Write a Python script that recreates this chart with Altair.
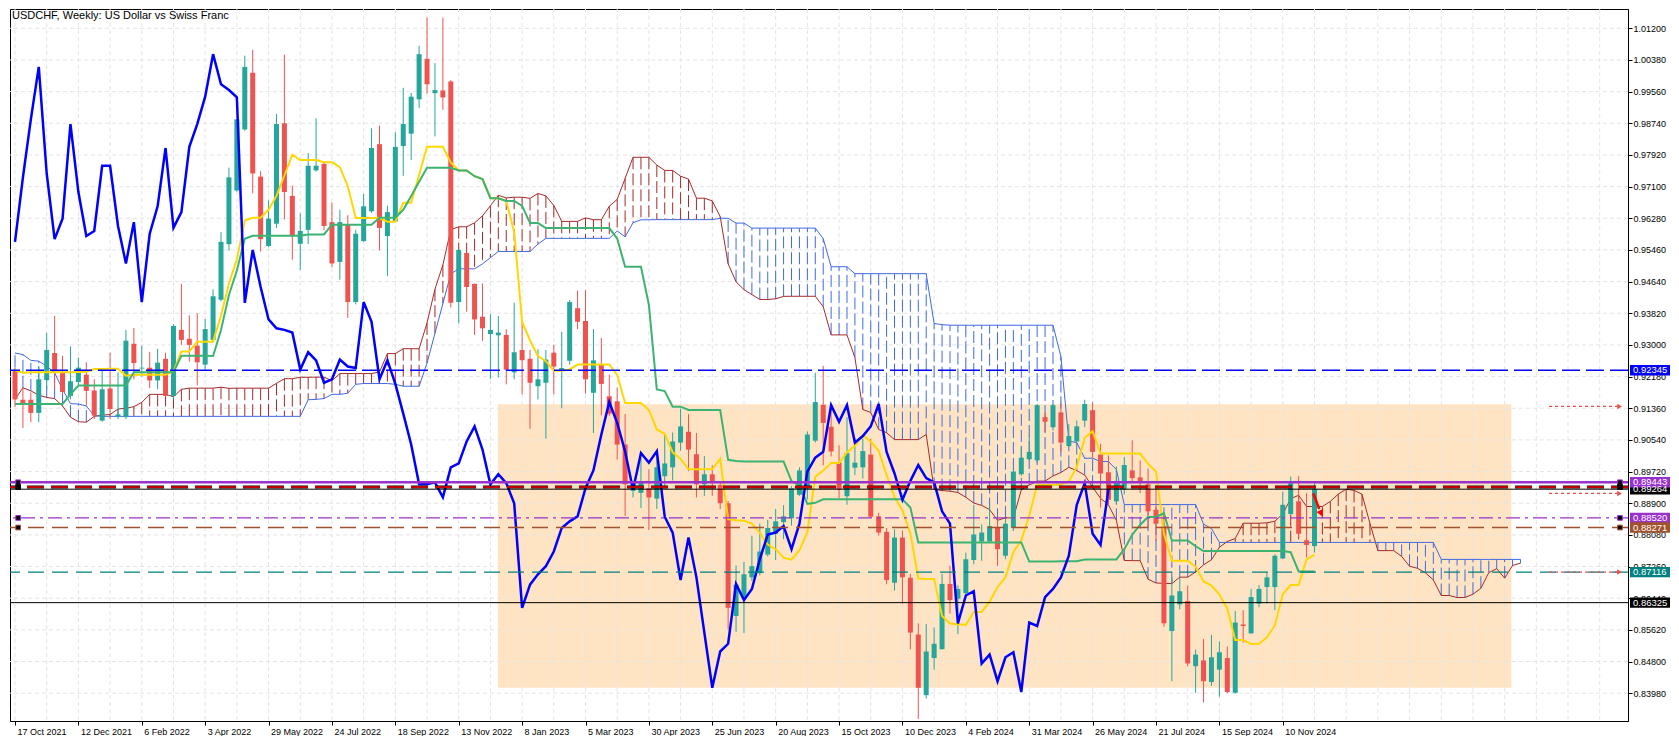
import json
import altair as alt
import pandas as pd

TITLE = "USDCHF, Weekly:  US Dollar vs Swiss Franc"

# Weekly candles, first bar = week of 17 Oct 2021 (165 bars)
OPEN = [
    0.9232, 0.9158, 0.9158, 0.9124, 0.9209, 0.9279, 0.9228, 0.9168, 0.9204, 0.9223,
    0.9182, 0.9104, 0.9187, 0.9115, 0.9113, 0.9303, 0.9239, 0.9241, 0.9208, 0.9264,
    0.9168, 0.9339, 0.9316, 0.9298, 0.9249, 0.9313, 0.9417, 0.9561, 0.9700, 0.9858,
    1.0005, 0.9736, 0.9556, 0.9614, 0.9874, 0.9686, 0.9562, 0.9598, 0.9752, 0.9769,
    0.9618, 0.9515, 0.9612, 0.9411, 0.9569, 0.9646, 0.9820, 0.9582, 0.9620, 0.9815,
    0.9847, 0.9936, 1.0041, 0.9952, 0.9959, 0.9982, 0.9411, 0.9538, 0.9458, 0.9373,
    0.9328, 0.9325, 0.9326, 0.9229, 0.9287, 0.9264, 0.9193, 0.9202, 0.9280, 0.9235,
    0.9259, 0.9395, 0.9362, 0.9176, 0.9248, 0.9167, 0.9154, 0.9042, 0.8922, 0.8917,
    0.8929, 0.8902, 0.8960, 0.8983, 0.9047, 0.9075, 0.9017, 0.8939, 0.8965, 0.8937,
    0.8890, 0.8598, 0.8645, 0.8698, 0.8709, 0.8757, 0.8811, 0.8841, 0.8851, 0.8912,
    0.8934, 0.9052, 0.9145, 0.9088, 0.8995, 0.8908, 0.8982, 0.8983, 0.9016, 0.8856,
    0.8816, 0.8684, 0.8801, 0.8697, 0.8550, 0.8393, 0.8489, 0.8512, 0.8681, 0.8643,
    0.8657, 0.8743, 0.8791, 0.8791, 0.8826, 0.8754, 0.8826, 0.8965, 0.9004, 0.9001,
    0.9113, 0.9087, 0.9125, 0.9038, 0.9050, 0.9104, 0.9131, 0.9016, 0.8970, 0.8895,
    0.8926, 0.8975, 0.8957, 0.8939, 0.8873, 0.8831, 0.8559, 0.8628, 0.8637, 0.8468,
    0.8483, 0.8427, 0.8459, 0.8489, 0.8399, 0.8576, 0.8553, 0.8630, 0.8673, 0.8673,
    0.8747, 0.8862, 0.8895, 0.8794, 0.8779,
]
HIGH = [
    0.9241, 0.9190, 0.9177, 0.9246, 0.9331, 0.9375, 0.9272, 0.9296, 0.9267, 0.9255,
    0.9211, 0.9236, 0.9280, 0.9229, 0.9339, 0.9344, 0.9298, 0.9282, 0.9290, 0.9280,
    0.9354, 0.9458, 0.9377, 0.9382, 0.9367, 0.9444, 0.9592, 0.9759, 0.9885, 1.0049,
    1.0064, 0.9750, 0.9674, 0.9898, 1.0052, 0.9713, 0.9641, 0.9797, 0.9887, 0.9774,
    0.9669, 0.9650, 0.9636, 0.9598, 0.9691, 0.9861, 0.9868, 0.9661, 0.9851, 0.9966,
    0.9953, 1.0075, 1.0148, 1.0030, 1.0148, 0.9986, 0.9548, 0.9540, 0.9459, 0.9459,
    0.9380, 0.9375, 0.9341, 0.9409, 0.9362, 0.9287, 0.9289, 0.9287, 0.9300, 0.9334,
    0.9416, 0.9441, 0.9442, 0.9341, 0.9318, 0.9223, 0.9189, 0.9121, 0.8944, 0.9008,
    0.8978, 0.9019, 0.9067, 0.9073, 0.9135, 0.9121, 0.9072, 0.9012, 0.8988, 0.8944,
    0.8896, 0.8729, 0.8738, 0.8806, 0.8837, 0.8847, 0.8875, 0.8885, 0.8934, 0.8983,
    0.9076, 0.9228, 0.9246, 0.9147, 0.9040, 0.9113, 0.9059, 0.9057, 0.9057, 0.8865,
    0.8826, 0.8822, 0.8819, 0.8707, 0.8579, 0.8577, 0.8568, 0.8707, 0.8728, 0.8677,
    0.8762, 0.8886, 0.8835, 0.8886, 0.8848, 0.8852, 0.8976, 0.9036, 0.9065, 0.9147,
    0.9125, 0.9147, 0.9149, 0.9095, 0.9104, 0.9158, 0.9152, 0.9044, 0.9014, 0.8985,
    0.9010, 0.9053, 0.9001, 0.8980, 0.8933, 0.8860, 0.8698, 0.8698, 0.8677, 0.8511,
    0.8538, 0.8549, 0.8532, 0.8519, 0.8611, 0.8613, 0.8668, 0.8678, 0.8711, 0.8758,
    0.8920, 0.8959, 0.8960, 0.8916, 0.8942,
]
LOW = [
    0.9139, 0.9085, 0.9100, 0.9100, 0.9185, 0.9185, 0.9170, 0.9159, 0.9195, 0.9142,
    0.9108, 0.9101, 0.9108, 0.9108, 0.9108, 0.9211, 0.9218, 0.9188, 0.9185, 0.9165,
    0.9159, 0.9300, 0.9257, 0.9195, 0.9236, 0.9308, 0.9413, 0.9544, 0.9697, 0.9855,
    0.9693, 0.9542, 0.9554, 0.9603, 0.9625, 0.9521, 0.9494, 0.9561, 0.9749, 0.9597,
    0.9501, 0.9469, 0.9370, 0.9405, 0.9567, 0.9642, 0.9545, 0.9478, 0.9618, 0.9738,
    0.9779, 0.9914, 0.9951, 0.9840, 0.9909, 0.9397, 0.9356, 0.9386, 0.9326, 0.9311,
    0.9212, 0.9216, 0.9198, 0.9211, 0.9172, 0.9083, 0.9159, 0.9057, 0.9172, 0.9136,
    0.9249, 0.9341, 0.9174, 0.9072, 0.9118, 0.9116, 0.9003, 0.8857, 0.8905, 0.8878,
    0.8821, 0.8875, 0.8934, 0.8949, 0.9026, 0.8973, 0.8905, 0.8909, 0.8909, 0.8875,
    0.8563, 0.8557, 0.8554, 0.8689, 0.8703, 0.8752, 0.8743, 0.8797, 0.8832, 0.8909,
    0.8900, 0.9047, 0.8988, 0.9011, 0.8903, 0.8886, 0.8963, 0.8954, 0.8852, 0.8806,
    0.8680, 0.8664, 0.8630, 0.8512, 0.8331, 0.8384, 0.8459, 0.8511, 0.8604, 0.8551,
    0.8651, 0.8732, 0.8741, 0.8788, 0.8728, 0.8745, 0.8818, 0.8961, 0.9001, 0.8995,
    0.9074, 0.9078, 0.9023, 0.9036, 0.9048, 0.9087, 0.9006, 0.8879, 0.8886, 0.8886,
    0.8913, 0.8946, 0.8916, 0.8826, 0.8792, 0.8570, 0.8429, 0.8615, 0.8468, 0.8399,
    0.8374, 0.8417, 0.8389, 0.8398, 0.8397, 0.8529, 0.8552, 0.8621, 0.8630, 0.8613,
    0.8745, 0.8860, 0.8801, 0.8750, 0.8762,
]
CLOSE = [
    0.9159, 0.9147, 0.9124, 0.9211, 0.9287, 0.9232, 0.9178, 0.9206, 0.9241, 0.9181,
    0.9117, 0.9185, 0.9134, 0.9120, 0.9311, 0.9253, 0.9241, 0.9208, 0.9254, 0.9168,
    0.9349, 0.9313, 0.9300, 0.9255, 0.9341, 0.9426, 0.9567, 0.9734, 0.9884, 1.0020,
    0.9744, 0.9574, 0.9627, 0.9872, 0.9696, 0.9582, 0.9595, 0.9764, 0.9764, 0.9608,
    0.9511, 0.9618, 0.9411, 0.9588, 0.9659, 0.9810, 0.9603, 0.9644, 0.9813, 0.9872,
    0.9943, 1.0053, 0.9975, 0.9960, 0.9941, 0.9409, 0.9546, 0.9450, 0.9366, 0.9343,
    0.9339, 0.9332, 0.9236, 0.9281, 0.9260, 0.9202, 0.9211, 0.9262, 0.9244, 0.9240,
    0.9411, 0.9360, 0.9211, 0.9260, 0.9199, 0.9122, 0.9042, 0.8939, 0.8939, 0.8944,
    0.8905, 0.8983, 0.8993, 0.9050, 0.9089, 0.9029, 0.8939, 0.8965, 0.8942, 0.8890,
    0.8619, 0.8679, 0.8706, 0.8727, 0.8765, 0.8826, 0.8843, 0.8856, 0.8929, 0.8975,
    0.9068, 0.9152, 0.9098, 0.9024, 0.8925, 0.9020, 0.8995, 0.9025, 0.8855, 0.8814,
    0.8691, 0.8801, 0.8698, 0.8555, 0.8412, 0.8506, 0.8526, 0.8681, 0.8639, 0.8668,
    0.8745, 0.8809, 0.8814, 0.8831, 0.8771, 0.8837, 0.8972, 0.9008, 0.9023, 0.9144,
    0.9101, 0.9144, 0.9047, 0.9064, 0.9089, 0.9147, 0.9023, 0.8967, 0.8899, 0.8948,
    0.8989, 0.8955, 0.8944, 0.8869, 0.8837, 0.8579, 0.8651, 0.8662, 0.8475, 0.8498,
    0.8429, 0.8491, 0.8504, 0.8401, 0.8581, 0.8572, 0.8647, 0.8668, 0.8698, 0.8754,
    0.8886, 0.8942, 0.8811, 0.8782, 0.89264,
]

TENKAN_EARLY = [0.9234, 0.9228, 0.9229, 0.9229, 0.9229, 0.9229, 0.9229, 0.9229]
KIJUN_EARLY = [0.9147] * 7 + [0.9172] + [0.9195] * 7 + [0.9229] * 6 + [0.9272] * 4
SPAN_A_EARLY = [0.9159, 0.9189, 0.9181, 0.9170, 0.9164, 0.9161, 0.9142, 0.9113, 0.9101, 0.9100,
                0.9115, 0.9118, 0.9120, 0.9134, 0.9136, 0.9140, 0.9151, 0.9172, 0.9172, 0.9172,
                0.9166, 0.9185, 0.9188, 0.9188, 0.9188, 0.9188]
SPAN_B_EARLY = ([0.9279, 0.9275, 0.9260, 0.9258, 0.9245, 0.9228, 0.9185, 0.9148, 0.9147, 0.9142, 0.9117]
                + [0.9115] * 26
                + [0.9158, 0.9159, 0.9161, 0.9172, 0.9172, 0.9175, 0.9198]
                + [0.9200] * 4 + [0.9198] + [0.9193] * 3
                + [0.9253, 0.9330, 0.9407, 0.9484] + [0.9497] * 3 + [0.9510, 0.9526]
                + [0.9542] * 5 + [0.9561] + [0.9576] * 9 + [0.9595])

DATE_LABELS = ["17 Oct 2021", "12 Dec 2021", "6 Feb 2022", "3 Apr 2022", "29 May 2022",
               "24 Jul 2022", "18 Sep 2022", "13 Nov 2022", "8 Jan 2023", "5 Mar 2023",
               "30 Apr 2023", "25 Jun 2023", "20 Aug 2023", "15 Oct 2023", "10 Dec 2023",
               "4 Feb 2024", "31 Mar 2024", "26 May 2024", "21 Jul 2024", "15 Sep 2024",
               "10 Nov 2024"]
LABEL_WEEKS = list(range(0, 161, 8))
Y_TICKS = [0.83980, 0.84800, 0.85620, 0.86440, 0.87260, 0.88080, 0.88900, 0.89720,
           0.90540, 0.91360, 0.92180, 0.93000, 0.93820, 0.94640, 0.95460, 0.96280,
           0.97100, 0.97920, 0.98740, 0.99560, 1.00380, 1.01200]
GRID_WEEKS = list(range(0, 201, 4))

LEVEL_BLUE = 0.92345
LEVEL_PURPLE = 0.89443
LEVEL_DASHED = 0.89320
LEVEL_BID = 0.89264
LEVEL_DASHDOT = 0.88520
LEVEL_BROWN = 0.88271
LEVEL_TEAL = 0.87116
LEVEL_BLACK = 0.86325

RECT_WEEKS = [60.94, 188.85]
RECT_PRICES = [0.91466, 0.84122]

ARROW_LEVELS = [0.91407, 0.89153, 0.87116]
ARROW_WEEKS = [193.6, 202.2, 202.5]
SIGNAL_WEEKS = [163.85, 164.6]
SIGNAL_PRICES = [0.8916, 0.8875]
SIGNAL_HEAD = [164.78, 0.8866]

# ---------------------------------------------------------------- layout
FONT = "Liberation Sans"
PLOT_W, PLOT_H = 1618, 712
X_MAX = 202.9375
Y_MIN, Y_MAX = 0.8326, 1.0170
GREEN, RED = "#26A69A", "#EF5350"
BROWN, ROYAL = "#A52A2A", "#4169E1"
PURPLE, SIENNA, TEAL = "#9932CC", "#A0522D", "#008080"

N = len(OPEN)
high = pd.Series(HIGH)
low = pd.Series(LOW)
tenkan = ((high.rolling(9).max() + low.rolling(9).min()) / 2).tolist()
tenkan[:8] = TENKAN_EARLY
kijun = ((high.rolling(26).max() + low.rolling(26).min()) / 2).tolist()
kijun[:25] = KIJUN_EARLY
mid52 = ((high.rolling(52).max() + low.rolling(52).min()) / 2).tolist()
span_a = SPAN_A_EARLY + [(tenkan[j] + kijun[j]) / 2 for j in range(N)]
span_b = SPAN_B_EARLY + [mid52[j] for j in range(51, N)]

candles = pd.DataFrame({"i": range(N), "open": OPEN, "high": HIGH, "low": LOW, "close": CLOSE})
ind = pd.DataFrame({"i": range(N), "tenkan": tenkan, "kijun": kijun})
cloud = pd.DataFrame({"p": range(len(span_a)), "a": span_a, "b": span_b})
chikou = pd.DataFrame({"i": range(N - 26), "v": CLOSE[26:]})

xs = alt.Scale(domain=[0, X_MAX], nice=False, zero=False)
ys = alt.Scale(domain=[Y_MIN, Y_MAX], nice=False, zero=False)

# axes (drawn by the library): dated ticks every 8 weeks at the bottom, prices on the right
X_AXIS = alt.Axis(values=LABEL_WEEKS,
                  labelExpr=f"{json.dumps(DATE_LABELS)}[round(datum.value / 8)]",
                  tickSize=4, labelAlign="left", labelOffset=2, labelPadding=2, grid=False,
                  labelOverlap=False, labelFlush=False, title=None,
                  labelFont=FONT, labelFontSize=9, labelColor="black", tickColor="black",
                  domainColor="black")
Y_AXIS = alt.Axis(orient="right", values=Y_TICKS, format=".5f", tickSize=4, labelPadding=1,
                  grid=False, labelOverlap=False, labelFlush=False, title=None,
                  labelFont=FONT, labelFontSize=9, labelColor="black", tickColor="black",
                  domainColor="black")


def xq(f):
    return alt.X(f"{f}:Q", scale=xs, axis=X_AXIS, title=None)


def yq(f):
    return alt.Y(f"{f}:Q", scale=ys, axis=Y_AXIS, title=None)


axes = alt.Chart(candles).mark_point(opacity=0, size=1).encode(x=xq("i"), y=yq("close"))

rect = alt.Chart(pd.DataFrame({"x1": [RECT_WEEKS[0]], "x2": [RECT_WEEKS[1]],
                               "y1": [RECT_PRICES[0]], "y2": [RECT_PRICES[1]]})).mark_rect(
    color="#FFE4C4").encode(x=xq("x1"), x2="x2", y=yq("y1"), y2="y2")

hgrid = alt.Chart(pd.DataFrame({"v": Y_TICKS})).mark_rule(
    color="#E4E4E4", strokeDash=[4, 3], strokeWidth=1).encode(y=yq("v"))
vgrid = alt.Chart(pd.DataFrame({"w": GRID_WEEKS})).mark_rule(
    color="#E4E4E4", strokeDash=[4, 3], strokeWidth=1).encode(x=xq("w"))

hatch = alt.Chart(cloud).mark_rule(strokeWidth=1, strokeDash=[12, 4], clip=True).encode(
    x=xq("p"), y=yq("a"), y2="b",
    color=alt.condition("datum.a >= datum.b", alt.value(BROWN), alt.value(ROYAL)))
line_a = alt.Chart(cloud).mark_line(color=BROWN, strokeWidth=1, clip=True).encode(x=xq("p"), y=yq("a"))
line_b = alt.Chart(cloud).mark_line(color=ROYAL, strokeWidth=1, clip=True).encode(x=xq("p"), y=yq("b"))

candle_color = alt.condition("datum.close >= datum.open", alt.value(GREEN), alt.value(RED))
wicks = alt.Chart(candles).mark_rule(strokeWidth=1, clip=True).encode(
    x=xq("i"), y=yq("high"), y2="low", color=candle_color)
bodies = alt.Chart(candles).mark_bar(size=5, clip=True).encode(
    x=xq("i"), y=yq("open"), y2="close", color=candle_color)

tenkan_l = alt.Chart(ind).mark_line(color="#FFD700", strokeWidth=2, clip=True).encode(x=xq("i"), y=yq("tenkan"))
kijun_l = alt.Chart(ind).mark_line(color="#3CB371", strokeWidth=2, clip=True).encode(x=xq("i"), y=yq("kijun"))
chikou_l = alt.Chart(chikou).mark_line(color="#0000FF", strokeWidth=2.5, clip=True).encode(x=xq("i"), y=yq("v"))


def level(price, **style):
    return alt.Chart(pd.DataFrame({"v": [price]})).mark_rule(**style).encode(y=yq("v"))


levels = [
    level(LEVEL_BLUE, color="#0000FF", strokeWidth=1.5, strokeDash=[18, 6]),
    level(LEVEL_PURPLE, color=PURPLE, strokeWidth=2.5),
    level(LEVEL_DASHED, color="#000000", strokeWidth=3, strokeDash=[17, 7]),
    level(LEVEL_DASHED, color="#FF0000", strokeWidth=1.3, strokeDash=[17, 7]),
    level(LEVEL_BID, color="#000000", strokeWidth=1),
    level(LEVEL_DASHDOT, color=PURPLE, strokeWidth=1.2, strokeDash=[14, 5, 3, 5]),
    level(LEVEL_BROWN, color=SIENNA, strokeWidth=1.3, strokeDash=[16, 8]),
    level(LEVEL_TEAL, color=TEAL, strokeWidth=1.3, strokeDash=[16, 8]),
    level(LEVEL_BLACK, color="#000000", strokeWidth=1),
]

anchor_df = pd.DataFrame({
    "w": [0.4] * 4 + [202.55] * 4,
    "v": [LEVEL_PURPLE, LEVEL_DASHED, LEVEL_DASHDOT, LEVEL_BROWN] * 2,
    "c": [PURPLE, "#000000", PURPLE, SIENNA] * 2,
})
anchors = alt.Chart(anchor_df).mark_square(size=22, fill="black", strokeWidth=1, opacity=1).encode(
    x=xq("w"), y=yq("v"), stroke=alt.Stroke("c:N", scale=None))

arrow_df = pd.DataFrame({"x1": [ARROW_WEEKS[0]] * 3, "x2": [ARROW_WEEKS[1]] * 3,
                         "xh": [ARROW_WEEKS[2]] * 3, "v": ARROW_LEVELS})
arrow_lines = alt.Chart(arrow_df).mark_rule(color="#EF4B4B", strokeWidth=1.2, strokeDash=[3, 3]).encode(
    x=xq("x1"), x2="x2", y=yq("v"))
arrow_heads = alt.Chart(arrow_df).mark_point(shape="triangle-right", filled=True, size=30,
                                             color="#EF4B4B", opacity=1).encode(x=xq("xh"), y=yq("v"))

signal = alt.Chart(pd.DataFrame({"w": SIGNAL_WEEKS, "v": SIGNAL_PRICES})).mark_line(
    color="#FF0000", strokeWidth=2.5).encode(x=xq("w"), y=yq("v"))
signal_head = alt.Chart(pd.DataFrame({"w": [SIGNAL_HEAD[0]], "v": [SIGNAL_HEAD[1]]})).mark_point(
    shape="triangle", filled=True, size=55, angle=156, color="#FF0000", opacity=1).encode(x=xq("w"), y=yq("v"))

title = alt.Chart(pd.DataFrame({"t": [TITLE]})).mark_text(
    align="left", baseline="middle", font=FONT, fontSize=11, color="black").encode(
    x=alt.value(2), y=alt.value(7), text="t:N")

half = 5.2 * (Y_MAX - Y_MIN) / PLOT_H
tag_prices = [LEVEL_BLUE, LEVEL_BID, LEVEL_PURPLE, LEVEL_DASHDOT, LEVEL_BROWN, LEVEL_TEAL, LEVEL_BLACK]
tag_colors = ["#0000FF", "#000000", PURPLE, PURPLE, SIENNA, TEAL, "#000000"]
tags = pd.DataFrame({"v": tag_prices, "c": tag_colors, "t": [f"{p:.5f}" for p in tag_prices]})
tags["hi"] = tags["v"] + half
tags["lo"] = tags["v"] - half
tag_box = alt.Chart(tags).mark_rect().encode(
    x=alt.value(PLOT_W + 2), x2=alt.value(PLOT_W + 42), y=yq("hi"), y2="lo",
    color=alt.Color("c:N", scale=None))
tag_txt = alt.Chart(tags).mark_text(align="left", baseline="middle", font=FONT, fontSize=9.5,
                                    color="white").encode(x=alt.value(PLOT_W + 5), y=yq("v"), text="t:N")

chart = alt.layer(
    axes, rect, hgrid, vgrid, hatch, line_a, line_b, wicks, bodies,
    tenkan_l, kijun_l, chikou_l, *levels, anchors, arrow_lines, arrow_heads,
    signal, signal_head, title, tag_box, tag_txt,
).properties(width=PLOT_W, height=PLOT_H, padding=0).configure_view(
    stroke="black", strokeWidth=1
)

chart.save("out.html", embed_options={"renderer": "svg", "actions": False})
